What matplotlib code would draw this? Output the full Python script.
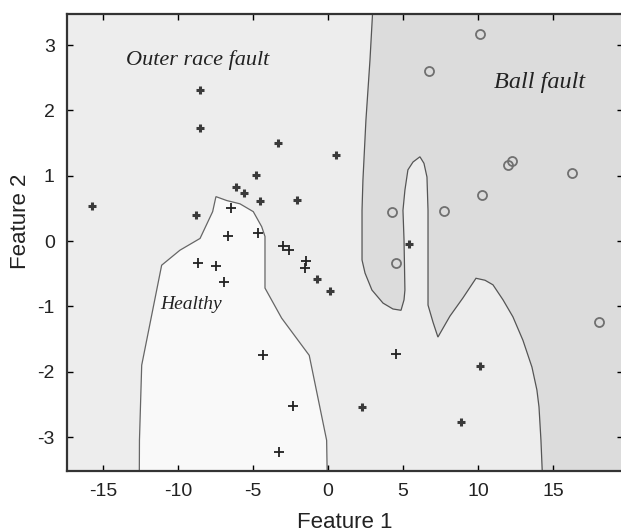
import matplotlib.pyplot as plt

plt.rcParams["font.family"] = ["Liberation Sans", "DejaVu Sans"]
plt.rcParams["axes.unicode_minus"] = False

# class samples (Feature 1, Feature 2)
healthy_x = [-6.47, -6.65, -4.65, -8.67, -7.47, -6.91, -4.31, -2.31, -3.29, 4.51, -3.02, -2.58, -1.47, -1.53]
healthy_y = [0.51, 0.07, 0.13, -0.33, -0.38, -0.63, -1.75, -2.53, -3.23, -1.73, -0.08, -0.14, -0.30, -0.42]

outer_x = [-8.53, -8.53, -3.31, 0.53, -4.8, -6.13, -5.62, -4.53, -2.09, -15.71, -8.8, -0.71, 0.13, 5.4, 2.25, 10.13, 8.85]
outer_y = [2.32, 1.73, 1.50, 1.31, 1.01, 0.82, 0.73, 0.61, 0.63, 0.54, 0.40, -0.58, -0.76, -0.05, -2.54, -1.91, -2.77]

ball_x = [10.13, 6.75, 12.0, 12.3, 16.25, 10.3, 7.75, 4.25, 4.53, 18.1]
ball_y = [3.17, 2.61, 1.17, 1.23, 1.04, 0.70, 0.46, 0.44, -0.34, -1.24]

# decision region boundaries
healthy_bx = [-7.47, -6.75, -5.87, -4.98, -4.42, -4.2, -4.2, -3.09, -1.25, -0.09, -0.05,
              -12.58, -12.57, -12.42, -11.09, -9.87, -8.53, -7.69]
healthy_by = [0.68, 0.62, 0.57, 0.45, 0.22, 0.07, -0.72, -1.18, -1.75, -3.05, -3.6,
              -3.6, -3.05, -1.90, -0.37, -0.14, 0.04, 0.45]

ball_bx = [3.0, 2.8, 2.53, 2.33, 2.27, 2.27, 2.47, 2.93, 3.67, 4.33, 4.87, 5.07, 5.13, 5.07,
           5.0, 5.13, 5.33, 5.67, 6.13, 6.4, 6.6, 6.67, 6.67, 6.67, 7.0, 7.33, 8.13, 9.0,
           9.87, 10.47, 11.0, 11.67, 12.33, 13.0, 13.6, 13.93, 14.07, 14.2, 14.3, 21, 21]
ball_by = [3.6, 2.77, 1.85, 0.93, 0.47, -0.29, -0.49, -0.75, -0.95, -1.04, -1.06, -0.90, -0.75, 0.02,
           0.47, 0.78, 1.09, 1.21, 1.29, 1.19, 0.98, 0.47, -0.14, -0.98, -1.24, -1.47, -1.15, -0.87,
           -0.57, -0.60, -0.67, -0.90, -1.16, -1.52, -1.93, -2.28, -2.54, -3.05, -3.6, -3.6, 3.6]

labels = [("Outer race fault", -8.67, 2.77, 16), ("Ball fault", 14.13, 2.43, 17.5),
          ("Healthy", -9.13, -0.97, 14)]

fig = plt.figure(figsize=(6.21, 5.32), dpi=100)
ax = fig.add_axes([0.1084, 0.1147, 0.8948, 0.859])
ax.set_facecolor("#ededed")

ax.fill(healthy_bx, healthy_by, facecolor="#f9f9f9", edgecolor="#666666", lw=0.9, zorder=1)
ax.fill(ball_bx, ball_by, facecolor="#dcdcdc", edgecolor="#555555", lw=0.9, zorder=1)

ax.plot(healthy_x, healthy_y, "+", color="#222222", ms=7, mew=1.3, zorder=3)
ax.plot(outer_x, outer_y, "+", color="#3a3a3a", ms=6, mew=2.2, zorder=3)
ax.plot(ball_x, ball_y, "o", mfc="none", mec="#707070", ms=6.5, mew=1.3, zorder=3)

for txt, tx, ty, fs in labels:
    ax.text(tx, ty, txt, family="Liberation Serif", style="italic", fontsize=fs,
            color="#222222", ha="center", va="center", zorder=4)

ax.set_xlim(-17.38, 19.67)
ax.set_ylim(-3.52, 3.476)
ax.set_xticks(range(-15, 16, 5))
ax.set_yticks(range(-3, 4))
ax.tick_params(direction="in", top=True, right=True, length=4, width=1,
               labelsize=14, labelcolor="#222222", pad=9)
for s in ax.spines.values():
    s.set_linewidth(1.6)
    s.set_color("#333333")

ax.set_xlabel("Feature 1", fontsize=16, color="#222222")
ax.set_ylabel("Feature 2", fontsize=16, color="#222222")
ax.xaxis.set_label_coords(0.5, -0.112)
ax.yaxis.set_label_coords(-0.085, 0.547)
ax.xaxis.label.set_va("center")
ax.yaxis.label.set_va("center")

fig.savefig("out.png", dpi=100)
